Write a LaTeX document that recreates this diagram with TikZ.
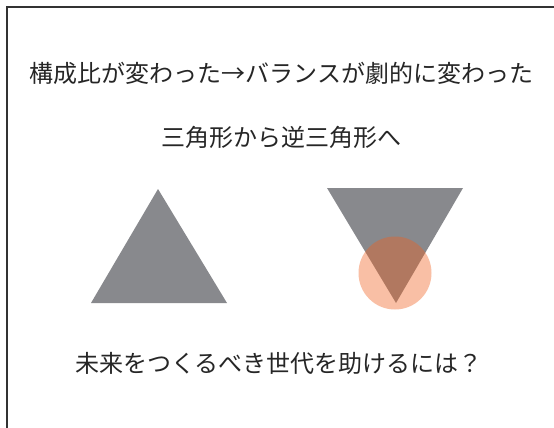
\documentclass[tikz,border=0pt]{standalone}
\usepackage{fontspec}
\newfontfamily\cjk{Noto Sans CJK JP}
\definecolor{tri}{RGB}{136,137,141}
\definecolor{circ}{RGB}{240,96,30}
\definecolor{frame}{RGB}{50,50,50}
\begin{document}
\begin{tikzpicture}[x=1pt,y=-1pt,
  lbl/.style={font=\cjk\fontsize{24pt}{28pt}\selectfont, text=black!85, inner sep=0pt}]
\useasboundingbox (0,0) rectangle (554,428);
\fill[white] (0,0) rectangle (554,428);
\draw[frame, line width=2pt] (6.8,428) -- (6.8,7.5) -- (554,7.5);
\node[lbl] (t1) at (281.5,73) {構成比が変わった→バランスが劇的に変わった};
\node[lbl] (t2) at (281.5,137) {三角形から逆三角形へ};
\node[lbl] (t3) at (279,363) {未来をつくるべき世代を助けるには？};
\fill[tri] (91,303) -- (158,189) -- (227,303) -- cycle;
\fill[tri] (327,188) -- (463,188) -- (396,303) -- cycle;
\fill[circ, opacity=0.4] (395,273) circle (36.5);
\end{tikzpicture}
\end{document}
